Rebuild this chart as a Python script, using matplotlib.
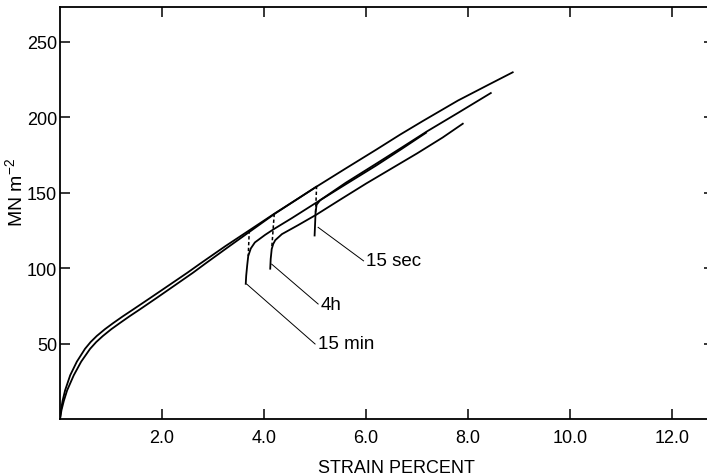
"""Stress-strain curves with recovery and reloading (15 sec, 15 min, 4 h)."""

import matplotlib

matplotlib.use("Agg")
import matplotlib.pyplot as plt

plt.rcParams["font.family"] = ["Liberation Sans", "DejaVu Sans"]
plt.rcParams["mathtext.fontset"] = "custom"
plt.rcParams["mathtext.rm"] = "Liberation Sans"
plt.rcParams["mathtext.it"] = "Liberation Sans:italic"

# main loading curve, run to failure
main_x = [0, 0.02, 0.05, 0.1, 0.2, 0.33, 0.49, 0.6, 0.72, 0.88, 1.04, 1.23,
          1.43, 1.76, 2.0, 2.5, 2.75, 3.24, 3.71, 4.2, 4.71, 5.03, 5.6, 6.2,
          6.67, 7.12, 7.8, 8.4, 8.89]
main_y = [0, 6, 12, 19, 29, 38, 46.5, 51, 55, 59.5, 63.5, 68,
          72.5, 80, 85.5, 97, 103, 114.5, 125, 136, 147, 154, 166, 178.5,
          188.5, 197.6, 211, 221.5, 230]

# second loading curve, just inside the first one
load2_x = [0, 0.03, 0.075, 0.14, 0.27, 0.415, 0.59, 0.71, 0.84, 1.005, 1.17,
           1.36, 1.56, 1.885, 2.12, 2.61, 2.85, 3.32, 3.755, 4.21, 4.71, 5.03]
load2_y = [0, 6, 12, 19, 29, 38, 46.5, 51, 55, 59.5, 63.5,
           68, 72.5, 80, 85.5, 97, 103, 114.5, 125, 136, 147, 154]

# drops (dashed) from the loading curve
drop_15min_x = [3.71, 3.69]
drop_15min_y = [125, 108]
drop_4h_x = [4.20, 4.15]
drop_4h_y = [136, 113]
drop_15sec_x = [5.03, 5.01]
drop_15sec_y = [154.5, 137]

# reloading curves
reload_15min_x = [3.64, 3.65, 3.67, 3.69, 3.74, 3.82, 4.02, 4.2, 4.54, 5.03,
                  5.6, 6.2, 6.7, 7.19]
reload_15min_y = [89, 95, 102, 108, 113, 117, 122, 126, 133, 143.5,
                  155.5, 168, 179, 190]
reload_15sec_x = [4.99, 5.0, 5.01, 5.03, 5.1, 5.6, 6.2, 6.7, 7.19, 7.8, 8.46]
reload_15sec_y = [121, 129, 137, 142, 145, 156.5, 169.2, 179.9, 190.5, 202.8, 216.3]
reload_4h_x = [4.12, 4.13, 4.15, 4.18, 4.22, 4.35, 4.67, 5.03, 5.5, 6.0,
               6.5, 7.0, 7.5, 7.91]
reload_4h_y = [99, 106, 112.6, 116, 118.5, 122.5, 128.5, 135.5, 145.5, 156,
               166, 176, 186.5, 196]

# labels with leader lines
labels = ["15 min", "4h", "15 sec"]
leader_start_x = [3.66, 4.15, 5.06]
leader_start_y = [89.4, 102.6, 127]
leader_end_x = [5.0, 5.06, 5.95]
leader_end_y = [49.7, 76.2, 104.8]

x_ticks = [2, 4, 6, 8, 10, 12]
x_tick_labels = ["2.0", "4.0", "6.0", "8.0", "10.0", "12.0"]
y_ticks = [50, 100, 150, 200, 250]

fig = plt.figure(figsize=(7.07, 4.77), dpi=100)
ax = fig.add_axes([60 / 707, 57 / 477, 654 / 707, 412 / 477])

line_kw = {"color": "black", "lw": 1.3, "solid_capstyle": "butt"}
ax.plot(main_x, main_y, **line_kw)
ax.plot(load2_x, load2_y, **line_kw)
ax.plot(reload_15min_x, reload_15min_y, **line_kw)
ax.plot(reload_15sec_x, reload_15sec_y, **line_kw)
ax.plot(reload_4h_x, reload_4h_y, **line_kw)

dash_kw = {"color": "black", "lw": 1.1, "linestyle": (0, (2.2, 1.6))}
ax.plot(drop_15min_x, drop_15min_y, **dash_kw)
ax.plot(drop_4h_x, drop_4h_y, **dash_kw)
ax.plot(drop_15sec_x, drop_15sec_y, **dash_kw)

for i, text in enumerate(labels):
    ax.plot([leader_start_x[i], leader_end_x[i]],
            [leader_start_y[i], leader_end_y[i]], color="black", lw=0.7)
    ax.text(leader_end_x[i] + 0.05, leader_end_y[i], text, fontsize=13.5,
            ha="left", va="center")

ax.set_xlim(0, 12.82)
ax.set_ylim(0, 273)
ax.set_xticks(x_ticks)
ax.set_xticklabels(x_tick_labels)
ax.set_yticks(y_ticks)
ax.tick_params(direction="in", length=7, width=1.1, labelsize=13,
               top=True, right=True)
ax.tick_params(axis="y", pad=2)
ax.tick_params(axis="x", pad=7)
ax.spines["right"].set_visible(False)
for side in ["left", "bottom", "top"]:
    ax.spines[side].set_linewidth(1.3)

ax.text(0.514, -0.128, "STRAIN PERCENT", transform=ax.transAxes,
        fontsize=13, ha="center", va="baseline")
ax.set_ylabel(r"MN m$^{-2}$", fontsize=14)
ax.yaxis.set_label_coords(-0.052, 0.553)

fig.savefig("out.png", dpi=100)
